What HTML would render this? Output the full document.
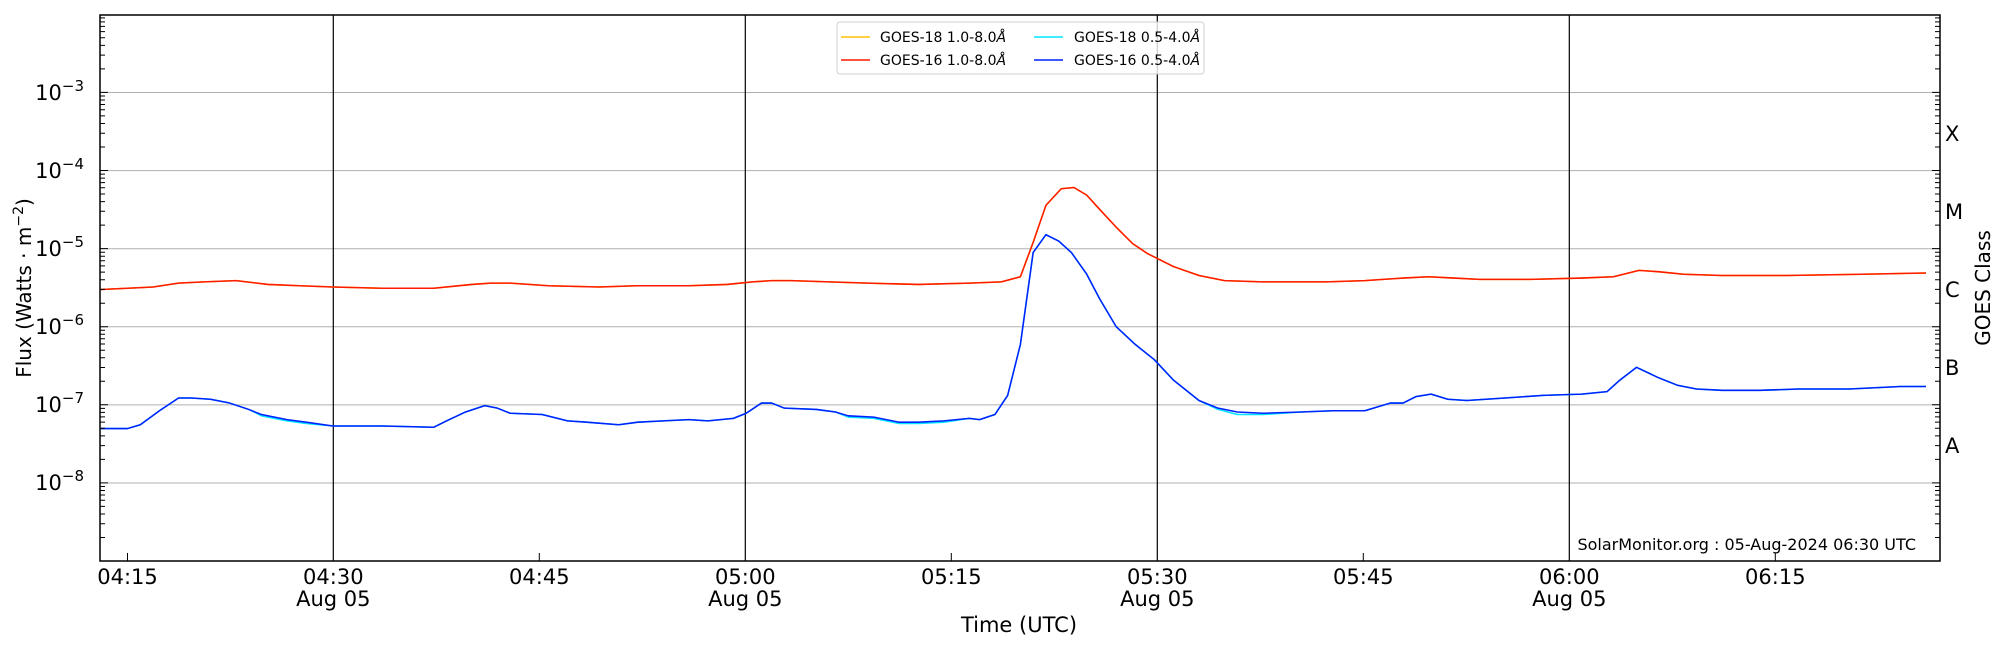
<!DOCTYPE html>
<html><head><meta charset="utf-8"><style>
html,body{margin:0;padding:0;background:#fff;}
svg{display:block;font-family:"DejaVu Sans","Liberation Sans",sans-serif;}
</style></head><body>
<svg width="2000" height="650" viewBox="0 0 2000 650" xmlns="http://www.w3.org/2000/svg">
<rect width="2000" height="650" fill="#fff"/>
<g stroke="#b0b0b0" stroke-width="1">
<line x1="100" x2="1940" y1="92.5" y2="92.5"/>
<line x1="100" x2="1940" y1="170.6" y2="170.6"/>
<line x1="100" x2="1940" y1="248.7" y2="248.7"/>
<line x1="100" x2="1940" y1="326.8" y2="326.8"/>
<line x1="100" x2="1940" y1="404.9" y2="404.9"/>
<line x1="100" x2="1940" y1="483" y2="483"/>
</g>
<g stroke="#000" stroke-width="1.2">
<line x1="333.3" x2="333.3" y1="15" y2="561"/>
<line x1="745.3" x2="745.3" y1="15" y2="561"/>
<line x1="1157.3" x2="1157.3" y1="15" y2="561"/>
<line x1="1569.3" x2="1569.3" y1="15" y2="561"/>
</g>
<g transform="scale(1.2755)" fill="none" stroke-width="1.2" stroke-linejoin="round">
<polyline stroke="#ffc000" points="79,227 100,226 120,225 140,222 160,221 185,220 210,223 235,224 261,225 300,226 340,226 370,223 385,222 400,222 430,224 470,225 500,224 540,224 570,223 590,221 605,220 620,220 650,221 680,222 720,223 760,222 785,221 800,217 810,190 820,161 832,148 842,147 852,153 862,164 875,178 888,191 900,199 920,209 940,216 960,220 990,221 1040,221 1070,220 1100,218 1120,217 1140,218 1160,219 1200,219 1240,218 1265,217 1285,212 1300,213 1320,215 1350,216 1400,216 1460,215 1510,214"/>
<polyline stroke="#ff1a00" points="79,227 100,226 120,225 140,222 160,221 185,220 210,223 235,224 261,225 300,226 340,226 370,223 385,222 400,222 430,224 470,225 500,224 540,224 570,223 590,221 605,220 620,220 650,221 680,222 720,223 760,222 785,221 800,217 810,190 820,161 832,148 842,147 852,153 862,164 875,178 888,191 900,199 920,209 940,216 960,220 990,221 1040,221 1070,220 1100,218 1120,217 1140,218 1160,219 1200,219 1240,218 1265,217 1285,212 1300,213 1320,215 1350,216 1400,216 1460,215 1510,214"/>
<polyline stroke="#00e5ff" points="79,336 100,336 110,333 125,322 140,312 150,312 165,313 180,316 195,321 205,326 225,330 240,332 261,334 300,334 340,335 350,330 365,323 380,318 390,320 400,324 425,325 445,330 460,331 485,333 500,331 520,330 540,329 555,330 575,328 585,324 597,316 605,316 615,320 640,321 655,323 665,327 685,328 705,332 720,332 740,331 760,328 768,329 780,325 790,310 800,270 810,198 820,184 830,189 840,198 852,215 862,234 875,256 890,270 905,282 920,298 940,314 955,321 970,325 990,325 1020,323 1045,322 1070,322 1090,316 1100,316 1110,311 1122,309 1135,313 1150,314 1180,312 1210,310 1240,309 1260,307 1270,298 1283,288 1300,296 1315,302 1330,305 1350,306 1380,306 1410,305 1450,305 1490,303 1510,303"/>
<polyline stroke="#0022ff" points="79,336 100,336 110,333 125,322 140,312 150,312 165,313 180,316 195,321 205,325 225,329 240,331 261,334 300,334 340,335 350,330 365,323 380,318 390,320 400,324 425,325 445,330 460,331 485,333 500,331 520,330 540,329 555,330 575,328 585,324 597,316 605,316 615,320 640,321 655,323 665,326 685,327 705,331 720,331 740,330 760,328 768,329 780,325 790,310 800,270 810,198 820,184 830,189 840,198 852,215 862,234 875,256 890,270 905,282 920,298 940,314 955,320 970,323 990,324 1020,323 1045,322 1070,322 1090,316 1100,316 1110,311 1122,309 1135,313 1150,314 1180,312 1210,310 1240,309 1260,307 1270,298 1283,288 1300,296 1315,302 1330,305 1350,306 1380,306 1410,305 1450,305 1490,303 1510,303"/>
</g>
<rect x="100" y="15" width="1840" height="546" fill="none" stroke="#000" stroke-width="1.5"/>
<!-- left minor/major ticks -->
<path stroke="#000" stroke-width="1" fill="none" d="
M100 537.5h5M100 523.7h5M100 514h5M100 506.4h5M100 500.2h5M100 495h5M100 490.5h5M100 486.5h5
M100 482.9h8M100 459.4h5M100 445.6h5M100 435.9h5M100 428.3h5M100 422.1h5M100 416.9h5M100 412.4h5M100 408.4h5
M100 404.8h8M100 381.3h5M100 367.5h5M100 357.8h5M100 350.2h5M100 344h5M100 338.8h5M100 334.3h5M100 330.3h5
M100 326.7h8M100 303.2h5M100 289.4h5M100 279.7h5M100 272.1h5M100 265.9h5M100 260.7h5M100 256.2h5M100 252.2h5
M100 248.6h8M100 225.1h5M100 211.3h5M100 201.6h5M100 194h5M100 187.8h5M100 182.6h5M100 178.1h5M100 174.1h5
M100 170.5h8M100 147h5M100 133.2h5M100 123.5h5M100 115.9h5M100 109.7h5M100 104.5h5M100 100h5M100 96h5
M100 92.4h8M100 68.9h5M100 55.1h5M100 45.4h5M100 37.8h5M100 31.6h5M100 26.4h5M100 21.9h5M100 17.9h5
M1940 537.5h-5M1940 523.7h-5M1940 514h-5M1940 506.4h-5M1940 500.2h-5M1940 495h-5M1940 490.5h-5M1940 486.5h-5
M1940 482.9h-8M1940 459.4h-5M1940 445.6h-5M1940 435.9h-5M1940 428.3h-5M1940 422.1h-5M1940 416.9h-5M1940 412.4h-5M1940 408.4h-5
M1940 404.8h-8M1940 381.3h-5M1940 367.5h-5M1940 357.8h-5M1940 350.2h-5M1940 344h-5M1940 338.8h-5M1940 334.3h-5M1940 330.3h-5
M1940 326.7h-8M1940 303.2h-5M1940 289.4h-5M1940 279.7h-5M1940 272.1h-5M1940 265.9h-5M1940 260.7h-5M1940 256.2h-5M1940 252.2h-5
M1940 248.6h-8M1940 225.1h-5M1940 211.3h-5M1940 201.6h-5M1940 194h-5M1940 187.8h-5M1940 182.6h-5M1940 178.1h-5M1940 174.1h-5
M1940 170.5h-8M1940 147h-5M1940 133.2h-5M1940 123.5h-5M1940 115.9h-5M1940 109.7h-5M1940 104.5h-5M1940 100h-5M1940 96h-5
M1940 92.4h-8M1940 68.9h-5M1940 55.1h-5M1940 45.4h-5M1940 37.8h-5M1940 31.6h-5M1940 26.4h-5M1940 21.9h-5M1940 17.9h-5
M127.5 561v-8M539.3 561v-8M951.3 561v-8M1363.3 561v-8M1775.3 561v-8"/>
<g font-size="21" text-anchor="end" fill="#000">
<text x="84" y="100">10<tspan dy="-9" font-size="15">−3</tspan></text>
<text x="84" y="178">10<tspan dy="-9" font-size="15">−4</tspan></text>
<text x="84" y="256">10<tspan dy="-9" font-size="15">−5</tspan></text>
<text x="84" y="334">10<tspan dy="-9" font-size="15">−6</tspan></text>
<text x="84" y="412">10<tspan dy="-9" font-size="15">−7</tspan></text>
<text x="84" y="490">10<tspan dy="-9" font-size="15">−8</tspan></text>
</g>
<g font-size="21" fill="#000">
<text x="1945" y="141">X</text>
<text x="1945" y="219">M</text>
<text x="1945" y="297">C</text>
<text x="1945" y="375">B</text>
<text x="1945" y="453">A</text>
</g>
<text transform="translate(31,288) rotate(-90)" font-size="20" text-anchor="middle">Flux (Watts · m<tspan dy="-8" font-size="14">−2</tspan><tspan dy="8">)</tspan></text>
<text transform="translate(1990,288) rotate(-90)" font-size="20" text-anchor="middle">GOES Class</text>
<g font-size="21" text-anchor="middle" fill="#000">
<text x="127.5" y="584">04:15</text>
<text x="333.3" y="584">04:30</text><text x="333.3" y="606">Aug 05</text>
<text x="539.3" y="584">04:45</text>
<text x="745.3" y="584">05:00</text><text x="745.3" y="606">Aug 05</text>
<text x="951.3" y="584">05:15</text>
<text x="1157.3" y="584">05:30</text><text x="1157.3" y="606">Aug 05</text>
<text x="1363.3" y="584">05:45</text>
<text x="1569.3" y="584">06:00</text><text x="1569.3" y="606">Aug 05</text>
<text x="1775.3" y="584">06:15</text>
<text x="1019" y="632">Time (UTC)</text>
</g>
<text x="1916" y="550" font-size="16" text-anchor="end">SolarMonitor.org : 05-Aug-2024 06:30 UTC</text>
<rect x="837" y="22" width="367" height="52" rx="3" fill="#fff" fill-opacity="0.8" stroke="#d0d0d0"/>
<g stroke-width="1.5">
<line x1="841" x2="870" y1="37" y2="37" stroke="#ffc000"/>
<line x1="841" x2="870" y1="60" y2="60" stroke="#ff1a00"/>
<line x1="1034" x2="1063" y1="37" y2="37" stroke="#00e5ff"/>
<line x1="1034" x2="1063" y1="60" y2="60" stroke="#0022ff"/>
</g>
<g font-size="14" fill="#000">
<text x="880" y="42">GOES-18 1.0-8.0<tspan font-style="italic">Å</tspan></text>
<text x="880" y="65">GOES-16 1.0-8.0<tspan font-style="italic">Å</tspan></text>
<text x="1074" y="42">GOES-18 0.5-4.0<tspan font-style="italic">Å</tspan></text>
<text x="1074" y="65">GOES-16 0.5-4.0<tspan font-style="italic">Å</tspan></text>
</g>
</svg>
</body></html>
